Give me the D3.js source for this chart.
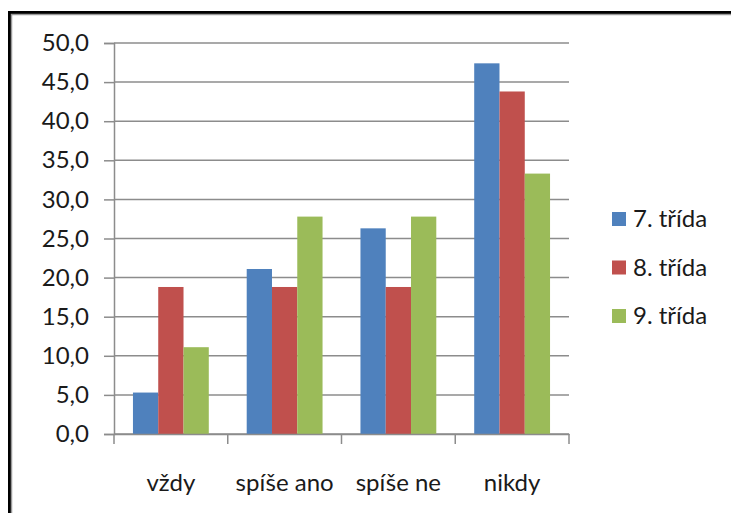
<!DOCTYPE html>
<html>
<head>
<meta charset="utf-8">
<script src="https://cdn.jsdelivr.net/npm/d3@7"></script>
<style>
  html, body { margin: 0; padding: 0; background: #fff; }
  svg { display: block; }
  text { font-family: Lato, "Open Sans", sans-serif; fill: #1a1a1a; }
</style>
</head>
<body>
<script>
// Survey answers by grade, in percent
const categories = ["vždy", "spíše ano", "spíše ne", "nikdy"];
const seriesNames = ["7. třída", "8. třída", "9. třída"];
const grade7 = [5.3, 21.1, 26.3, 47.4];
const grade8 = [18.8, 18.8, 18.8, 43.8];
const grade9 = [11.1, 27.8, 27.8, 33.3];
const yTicks = [0, 5, 10, 15, 20, 25, 30, 35, 40, 45, 50];
const colors = ["#4F81BD", "#C0504D", "#9BBB59"];

const series = [grade7, grade8, grade9];

const W = 731, H = 513;
const plot = { left: 114, right: 569, top: 43, bottom: 434 };

const svg = d3.select("body").append("svg")
  .attr("width", W).attr("height", H);

// outer frame (black edge with a grey inner rule)
svg.append("rect").attr("x", 9.5).attr("y", 12.5)
  .attr("width", W + 20).attr("height", H + 20)
  .attr("fill", "#fff").attr("stroke", "#000").attr("stroke-width", 3);
svg.append("rect").attr("x", 11.5).attr("y", 14.5)
  .attr("width", W + 20).attr("height", H + 20)
  .attr("fill", "none").attr("stroke", "#9a9a9a").attr("stroke-width", 1.5);

const x0 = d3.scaleBand().domain(categories)
  .range([plot.left, plot.right]).paddingInner(0).paddingOuter(0);
const groupPad = 0.75; // gap each side of the bar group, in bar widths
const barW = x0.bandwidth() / (seriesNames.length + 2 * groupPad);
const x1 = d3.scaleBand().domain(seriesNames)
  .range([barW * groupPad, barW * groupPad + barW * seriesNames.length]);

const y = d3.scaleLinear().domain([0, 50]).range([plot.bottom, plot.top]);

const gridColor = "#8c8c8c";

// horizontal gridlines
svg.append("g").selectAll("line").data(yTicks).join("line")
  .attr("x1", plot.left).attr("x2", plot.right)
  .attr("y1", d => y(d)).attr("y2", d => y(d))
  .attr("stroke", gridColor).attr("stroke-width", 1.5);

// y axis
const yAxis = d3.axisLeft(y).tickValues(yTicks)
  .tickFormat(d => d3.format(".1f")(d).replace(".", ","))
  .tickSize(10).tickPadding(15);
const gy = svg.append("g").attr("transform", `translate(${plot.left},0)`).call(yAxis);
gy.select(".domain").attr("stroke", gridColor).attr("stroke-width", 1.5);
gy.selectAll(".tick line").attr("stroke", gridColor).attr("stroke-width", 1.5);
gy.selectAll(".tick text").attr("font-size", 24).attr("fill", "#1a1a1a")
  .attr("font-family", "Lato, sans-serif");

// bars
const groups = svg.append("g").selectAll("g").data(categories).join("g")
  .attr("transform", d => `translate(${x0(d)},0)`);
groups.selectAll("rect")
  .data((c, i) => series.map((s, k) => ({ name: seriesNames[k], value: s[i], k })))
  .join("rect")
  .attr("x", d => x1(d.name))
  .attr("width", x1.bandwidth())
  .attr("y", d => y(d.value))
  .attr("height", d => y(0) - y(d.value))
  .attr("fill", d => colors[d.k]);

// x axis (category separators at band edges)
const xAxis = d3.axisBottom(x0).tickSize(0).tickPadding(40);
const gx = svg.append("g").attr("transform", `translate(0,${plot.bottom})`).call(xAxis);
gx.select(".domain").attr("stroke", gridColor).attr("stroke-width", 1.5);
gx.selectAll(".tick text").attr("font-size", 24).attr("fill", "#1a1a1a")
  .attr("font-family", "Lato, sans-serif");
const edges = categories.map(c => x0(c)).concat([plot.right]);
svg.append("g").selectAll("line").data(edges).join("line")
  .attr("x1", d => d).attr("x2", d => d)
  .attr("y1", plot.bottom).attr("y2", plot.bottom + 10)
  .attr("stroke", gridColor).attr("stroke-width", 1.5);

// legend
const legend = svg.append("g").selectAll("g").data(seriesNames).join("g")
  .attr("transform", (d, i) => `translate(612,${219 + i * 48.5})`);
legend.append("rect").attr("x", 0).attr("y", -7).attr("width", 14).attr("height", 14)
  .attr("fill", (d, i) => colors[i]);
legend.append("text").attr("x", 21).attr("y", 0).attr("dy", "0.35em")
  .attr("font-size", 24).text(d => d);
</script>
</body>
</html>
